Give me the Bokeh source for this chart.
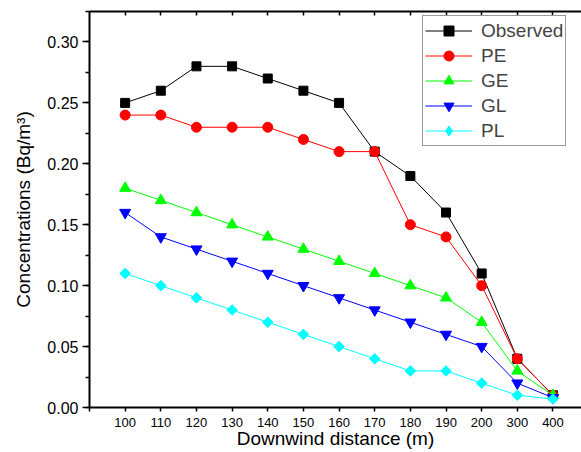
import numpy as np
from bokeh.plotting import figure
from bokeh.models import (LinearAxis, FixedTicker, Range1d, Legend, LegendItem,
                          NumeralTickFormatter)
from bokeh.embed import file_html
from bokeh.resources import INLINE

# ---- data ----
distance_labels = ["100", "110", "120", "130", "140", "150", "160", "170",
                   "180", "190", "200", "300", "400"]
observed = [0.25, 0.26, 0.28, 0.28, 0.27, 0.26, 0.25, 0.21, 0.19, 0.16, 0.11, 0.04, 0.01]
pe = [0.24, 0.24, 0.23, 0.23, 0.23, 0.22, 0.21, 0.21, 0.15, 0.14, 0.10, 0.04, 0.01]
ge = [0.18, 0.17, 0.16, 0.15, 0.14, 0.13, 0.12, 0.11, 0.10, 0.09, 0.07, 0.03, 0.01]
gl = [0.16, 0.14, 0.13, 0.12, 0.11, 0.10, 0.09, 0.08, 0.07, 0.06, 0.05, 0.02, 0.008]
pl = [0.11, 0.10, 0.09, 0.08, 0.07, 0.06, 0.05, 0.04, 0.03, 0.03, 0.02, 0.01, 0.007]
y_ticks = [0.0, 0.05, 0.10, 0.15, 0.20, 0.25, 0.30]
y_minor = [0.025 * i for i in range(14)]

x_pos = [i + 1 for i in range(len(distance_labels))]
FONT = "Liberation Sans"

p = figure(width=581, height=452, output_backend="svg", toolbar_location=None,
           x_range=Range1d(0, 13.8), y_range=Range1d(0, 0.325),
           min_border_left=89, min_border_right=0, min_border_top=11,
           min_border_bottom=45)
p.grid.visible = False
p.outline_line_color = None
p.background_fill_color = "white"

# bottom axis
xa = p.xaxis[0]
xa.ticker = FixedTicker(ticks=[0] + x_pos, minor_ticks=[])
xa.major_label_overrides = {0: ""} | {x: lab for x, lab in zip(x_pos, distance_labels)}
xa.major_tick_in = 0
xa.major_tick_out = 4
xa.major_tick_line_width = 1.5
xa.axis_line_width = 2
xa.major_label_text_font = FONT
xa.major_label_text_font_size = "13px"
xa.major_label_text_color = "black"
xa.major_label_standoff = 6
xa.axis_label = "Downwind distance (m)"
xa.axis_label_text_font = FONT
xa.axis_label_text_font_size = "19px"
xa.axis_label_text_font_style = "normal"
xa.axis_label_text_color = "black"
xa.axis_label_standoff = -2

# left axis
ya = p.yaxis[0]
ya.ticker = FixedTicker(ticks=y_ticks, minor_ticks=y_minor)
ya.formatter = NumeralTickFormatter(format="0.00")
ya.major_tick_in = 0
ya.major_tick_out = 7
ya.minor_tick_in = 0
ya.minor_tick_out = 4
ya.major_tick_line_width = 1.5
ya.minor_tick_line_width = 1.5
ya.axis_line_width = 2
ya.major_label_text_font = FONT
ya.major_label_text_font_size = "16px"
ya.major_label_text_color = "black"
ya.major_label_standoff = 4
ya.axis_label = "Concentrations (Bq/m\u00b3)"
ya.axis_label_text_font = FONT
ya.axis_label_text_font_size = "19px"
ya.axis_label_text_font_style = "normal"
ya.axis_label_text_color = "black"
ya.axis_label_standoff = 10

# top axis (ticks only)
top = LinearAxis(ticker=FixedTicker(ticks=x_pos, minor_ticks=[]),
                 major_tick_in=4, major_tick_out=0, major_tick_line_width=1.5,
                 axis_line_width=2, major_label_text_font_size="0px",
                 major_label_standoff=0)
top.major_label_overrides = {x: "" for x in x_pos}
p.add_layout(top, "above")

series = [
    ("Observed", observed, "black", "square", 9, 0.0, "square"),
    ("PE", pe, "#FF0000", "circle", 10, 0.0, "circle"),
    ("GE", ge, "#00FF00", "triangle", 11, 0.0, "triangle"),
    ("GL", gl, "#0000FF", "inverted_triangle", 11, 0.0, "inverted_triangle"),
    ("PL", pl, "#00FFFF", "square", 7.5, np.pi / 4, "diamond"),
]

items = []
for name, vals, col, mk, sz, ang, legmk in series:
    lr = p.line(x_pos, vals, line_color=col, line_width=1)
    sr = p.scatter(x_pos, vals, marker=mk, size=sz, angle=ang,
                   fill_color=col, line_color=col)
    if legmk != mk:
        hr = p.scatter(x_pos, vals, marker=legmk, size=sz,
                       fill_color=col, line_color=col, visible=False)
        items.append(LegendItem(label=name, renderers=[lr, hr]))
    else:
        items.append(LegendItem(label=name, renderers=[lr, sr]))

legend = Legend(items=items, location=(333, 261),
                label_text_font=FONT, label_text_font_size="19px",
                glyph_width=47, glyph_height=25, label_height=22,
                spacing=0, padding=2, label_standoff=9, margin=0,
                click_policy="none",
                border_line_color="#333333", border_line_width=1,
                background_fill_color="white", background_fill_alpha=1)
p.add_layout(legend)

open("out.html", "w").write(file_html(p, INLINE))
